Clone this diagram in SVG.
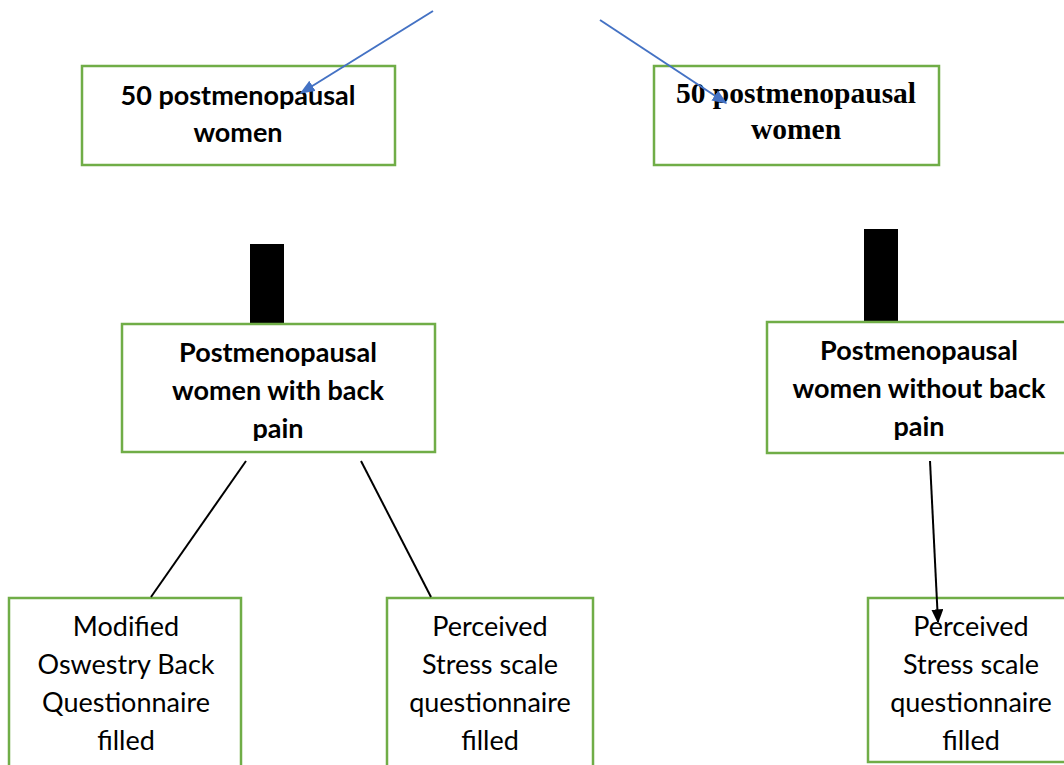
<svg xmlns="http://www.w3.org/2000/svg" width="1064" height="765" viewBox="0 0 1064 765">
<defs>
<marker id="blueHead" viewBox="0 0 10 10" refX="9" refY="5" markerWidth="15" markerHeight="12" markerUnits="userSpaceOnUse" orient="auto" preserveAspectRatio="none"><path d="M0,0 L10,5 L0,10 z" fill="#4472C4"/></marker>
<marker id="blackHead" viewBox="0 0 10 10" refX="9" refY="5" markerWidth="14" markerHeight="12" markerUnits="userSpaceOnUse" orient="auto" preserveAspectRatio="none"><path d="M0,0 L10,5 L0,10 z" fill="#000"/></marker>
<style>
.box{fill:#fff;stroke:#70AD47;stroke-width:2.5}
.bar{fill:#000}
.sb{font-family:Lato,"Open Sans",sans-serif;font-weight:bold;font-size:27px;fill:#000;text-anchor:middle}
.tb{font-family:"Liberation Serif",serif;font-weight:bold;font-size:29.5px;fill:#000;text-anchor:middle}
.r{font-family:Lato,"Open Sans",sans-serif;font-size:27px;fill:#000;text-anchor:middle}
.blue{stroke:#4472C4;stroke-width:2;fill:none}
.blk{stroke:#000;stroke-width:2;fill:none}
</style>
</defs>
<g id="bar1"><rect class="bar" x="250" y="244" width="34" height="80"/></g>
<g id="bar2"><rect class="bar" x="864" y="229" width="34" height="92"/></g>
<g id="node1"><rect class="box" x="82" y="66" width="313" height="99"/>
<text class="sb" x="238" y="105">50 postmenopausal</text><text class="sb" x="238" y="142">women</text></g>
<g id="node2"><rect class="box" x="654" y="66" width="285" height="99"/>
<text class="tb" x="796" y="103">50 postmenopausal</text><text class="tb" x="796" y="139">women</text></g>
<g id="node3"><rect class="box" x="122" y="324" width="313" height="128"/>
<text class="sb" x="278" y="362">Postmenopausal</text><text class="sb" x="278" y="400">women with back</text>
<svg x="122" y="324" width="313" height="117" overflow="hidden"><text class="sb" x="156" y="114">pain</text></svg></g>
<g id="node4"><rect class="box" x="767" y="322" width="300" height="131"/>
<text class="sb" x="919" y="360">Postmenopausal</text><text class="sb" x="919" y="398">women without back</text><text class="sb" x="919" y="436">pain</text></g>
<g id="node5"><rect class="box" x="9" y="598" width="232" height="170"/>
<text class="r" x="126" y="636">Modified</text><text class="r" x="126" y="674">Oswestry Back</text><text class="r" x="126" y="712">Questionnaire</text><text class="r" x="126" y="750">filled</text></g>
<g id="node6"><rect class="box" x="387" y="598" width="206" height="170"/>
<text class="r" x="490" y="636">Perceived</text><text class="r" x="490" y="674">Stress scale</text><text class="r" x="490" y="712">questionnaire</text><text class="r" x="490" y="750">filled</text></g>
<g id="node7"><rect class="box" x="868" y="598" width="200" height="164"/>
<text class="r" x="971" y="636">Perceived</text><text class="r" x="971" y="674">Stress scale</text><text class="r" x="971" y="712">questionnaire</text><text class="r" x="971" y="750">filled</text></g>
<g id="connectors">
<line class="blue" x1="433" y1="11" x2="301" y2="93" marker-end="url(#blueHead)"/>
<line class="blue" x1="600" y1="20" x2="726" y2="103" marker-end="url(#blueHead)"/>
<line class="blk" x1="246" y1="461" x2="151" y2="597"/>
<line class="blk" x1="361" y1="461" x2="431" y2="597"/>
<line class="blk" x1="930" y1="461" x2="938" y2="622" marker-end="url(#blackHead)"/>
</g>
</svg>
